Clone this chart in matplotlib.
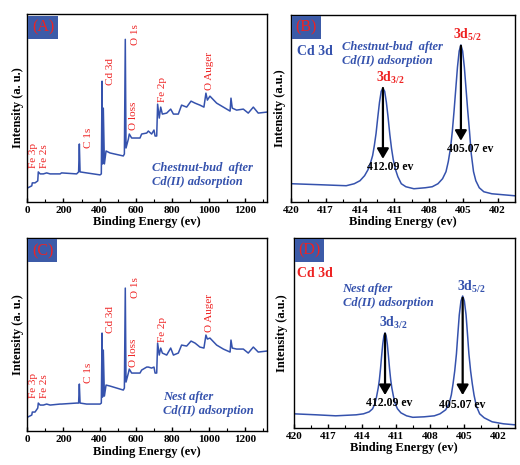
import matplotlib
matplotlib.use("Agg")
import matplotlib.pyplot as plt
from matplotlib.ticker import MultipleLocator

plt.rcParams['font.family'] = ['Liberation Serif', 'DejaVu Serif']
plt.rcParams['mathtext.fontset'] = 'custom'
plt.rcParams['mathtext.rm'] = 'Liberation Serif'

BLUE = '#3552ad'
RED = '#ee2222'
BOX = '#3c5ba8'

# survey spectra (binding energy in eV, intensity in a.u.)
survey_e = [4, 26, 29, 44, 59, 62, 72, 90, 108, 127, 182, 190, 273, 284, 288, 292, 328,
            402, 409, 413, 416, 420, 426, 435, 457, 530, 536, 541, 545, 558, 563, 576,
            622, 631, 659, 668, 686, 699, 705, 714, 719, 728, 736, 745, 769, 791, 806,
            833, 851, 879, 903, 925, 952, 974, 985, 993, 1007, 1044, 1081, 1118, 1123,
            1130, 1154, 1191, 1218, 1246, 1273, 1320]
survey_a = [14, 16, 19, 19, 21, 30, 28, 28, 29, 28, 28, 29, 28, 30, 58, 30, 29,
            27, 28, 121, 38, 94, 38, 51, 49, 46, 48, 163, 54, 63, 68, 64,
            64, 68, 69, 71, 68, 72, 66, 66, 98, 84, 95, 88, 89, 93, 88,
            88, 97, 95, 101, 99, 97, 95, 109, 102, 106, 99, 95, 91, 104,
            94, 92, 93, 89, 95, 89, 90]
survey_c = [14, 16, 19, 19, 23, 28, 26, 26, 27, 26, 27, 27, 28, 28, 47, 28, 27,
            27, 28, 98, 34, 81, 35, 46, 45, 41, 43, 143, 49, 58, 62, 58,
            58, 61, 64, 64, 63, 64, 58, 58, 88, 76, 83, 78, 76, 83, 76,
            78, 86, 85, 90, 88, 84, 83, 96, 92, 93, 86, 82, 79, 91,
            83, 82, 82, 78, 84, 79, 80]

survey_labels = ['Fe 3p', 'Fe 2s', 'C 1s', 'Cd 3d', 'O 1s', 'O loss', 'Fe 2p', 'O Auger']
label_e = [38, 94, 338, 462, 595, 588, 745, 1002]
label_a = [34, 34, 54, 117, 157, 72, 100, 112]
label_c = [33, 33, 48, 98, 133, 64, 89, 99]

# Cd 3d high resolution spectra
cd_e_b = [420, 417.5, 415.2, 414.5, 414.0, 413.6, 413.3, 413.1, 412.9, 412.75, 412.6,
          412.45, 412.3, 412.15, 412.0, 411.85, 411.7, 411.55, 411.4, 411.25, 411.1,
          410.9, 410.7, 410.4, 410.0, 409.3, 408.3, 407.7, 407.2, 406.8, 406.5, 406.3,
          406.1, 405.95, 405.8, 405.65, 405.5, 405.35, 405.2, 405.05, 404.9, 404.75,
          404.6, 404.45, 404.3, 404.1, 403.9, 403.6, 403.2, 402.5, 401.5, 400.5]
cd_b = [18, 17, 16, 18, 21, 26, 32, 38, 46, 56, 68,
        84, 99, 110, 113, 110, 99, 84, 67, 53, 42,
        32, 25, 18, 15, 13, 14, 15, 18, 23, 30, 40,
        54, 70, 90, 112, 134, 150, 156, 150, 134, 112,
        90, 70, 48, 30, 21, 14, 10, 8, 7, 6]
cd_e_d = [420, 418, 416.3, 414.5, 413.85, 413.35, 413.05, 412.85, 412.7, 412.55, 412.45,
          412.35, 412.25, 412.15, 412.05, 411.95, 411.85, 411.75, 411.65, 411.55, 411.45,
          411.35, 411.2, 411.05, 410.85, 410.55, 410.05, 409.5, 408.5, 407.6, 407.1,
          406.6, 406.3, 406.1, 405.95, 405.8, 405.65, 405.55, 405.4, 405.25, 405.1,
          404.95, 404.8, 404.65, 404.55, 404.4, 404.25, 404.1, 403.9, 403.6, 403.2,
          402.5, 401.5, 400.5]
cd_d = [14, 13, 12, 13, 14, 16, 19, 24, 31, 40, 48,
        59, 72, 84, 92, 95, 92, 84, 72, 59, 48,
        40, 31, 24, 19, 15, 12, 10.5, 11, 12, 14,
        18, 24, 33, 44, 57, 74, 90, 113, 127, 132,
        127, 113, 90, 74, 57, 44, 33, 22, 14, 10,
        6, 4, 3]

fig = plt.figure(figsize=(5.2, 4.65), dpi=100)
axA = fig.add_axes([0.052, 0.566, 0.461, 0.403])
axB = fig.add_axes([0.560, 0.566, 0.430, 0.402])
axC = fig.add_axes([0.052, 0.073, 0.461, 0.415])
axD = fig.add_axes([0.565, 0.080, 0.425, 0.408])


def style(ax):
    for s in ax.spines.values():
        s.set_linewidth(1.0)
    ax.set_yticks([])
    ax.tick_params(axis='x', direction='in', length=3, width=1.0, labelsize=8, pad=3)
    ax.tick_params(axis='x', which='minor', direction='in', length=2, width=0.8)
    for t in ax.get_xticklabels():
        t.set_fontweight('bold')
    ax.set_xlabel('Binding Energy (ev)', fontsize=9, fontweight='bold', labelpad=1)


def tag(ax, txt):
    ax.text(0.02, 0.975, txt, transform=ax.transAxes, ha='left', va='top', color=RED,
            fontsize=11.5, bbox=dict(boxstyle='square,pad=0.22', fc=BOX, ec='none'))


for ax, ys, ly, name, note in [(axA, survey_a, label_a, '(A)', 'Chestnut-bud  after\nCd(II) adsorption'),
                               (axC, survey_c, label_c, '(C)', 'Nest after\nCd(II) adsorption')]:
    ax.plot(survey_e, ys, color=BLUE, lw=1.1)
    ax.set_xlim(0, 1320)
    ax.set_ylim(0, 188 if ax is axA else 193)
    ax.xaxis.set_major_locator(MultipleLocator(200))
    ax.xaxis.set_minor_locator(MultipleLocator(100))
    style(ax)
    ax.set_ylabel('Intensity (a. u.)', fontsize=9, fontweight='bold', labelpad=2)
    tag(ax, name)
    for lab, e, y in zip(survey_labels, label_e, ly):
        ax.text(e, y, lab, rotation=90, color=RED, fontsize=8, ha='center', va='bottom')
    nx = 686 if ax is axA else 750
    ax.text(nx, 27, note, color=BLUE, fontsize=9, style='italic', fontweight='bold',
            ha='left', va='center', linespacing=1.3)

for ax, ex, ys, name in [(axB, cd_e_b, cd_b, '(B)'), (axD, cd_e_d, cd_d, '(D)')]:
    ax.plot(ex, ys, color=BLUE, lw=1.1)
    ax.set_xlim(420, 400.5)
    ax.xaxis.set_major_locator(MultipleLocator(3))
    ax.xaxis.set_minor_locator(MultipleLocator(1.5))
    style(ax)
    ax.set_ylabel('Intensity (a.u.)', fontsize=9, fontweight='bold', labelpad=4)
    tag(ax, name)

axB.set_ylim(0, 186)
axD.set_ylim(0, 190)

arrow = dict(arrowstyle='-|>,head_width=0.35,head_length=0.6', color='black', lw=1.6)

# panel B texts
axB.text(419.5, 150, 'Cd 3d', color=BLUE, fontsize=10, fontweight='bold', ha='left', va='center')
axB.text(415.6, 147, 'Chestnut-bud  after\nCd(II) adsorption', color=BLUE, fontsize=9,
         style='italic', fontweight='bold', ha='left', va='center', linespacing=1.15)
axB.text(412.6, 115, r'3d$_{\mathregular{3/2}}$', color=RED, fontsize=10, fontweight='bold', ha='left', va='bottom')
axB.text(405.9, 158, r'3d$_{\mathregular{5/2}}$', color=RED, fontsize=10, fontweight='bold', ha='left', va='bottom')
axB.annotate('', xy=(412.0, 40), xytext=(412.0, 116), arrowprops=arrow)
axB.annotate('', xy=(405.2, 58), xytext=(405.2, 158), arrowprops=arrow)
axB.text(411.4, 35, '412.09 ev', fontsize=8.5, fontweight='bold', ha='center', va='center')
axB.text(404.4, 53, '405.07 ev', fontsize=8.5, fontweight='bold', ha='center', va='center')

# panel D texts
axD.text(419.7, 155, 'Cd 3d', color=RED, fontsize=10, fontweight='bold', ha='left', va='center')
axD.text(415.7, 132, 'Nest after\nCd(II) adsorption', color=BLUE, fontsize=9,
         style='italic', fontweight='bold', ha='left', va='center', linespacing=1.3)
axD.text(412.45, 97, r'3d$_{\mathregular{3/2}}$', color=BLUE, fontsize=10, fontweight='bold', ha='left', va='bottom')
axD.text(405.6, 133, r'3d$_{\mathregular{5/2}}$', color=BLUE, fontsize=10, fontweight='bold', ha='left', va='bottom')
axD.annotate('', xy=(411.95, 30), xytext=(411.95, 97), arrowprops=arrow)
axD.annotate('', xy=(405.1, 30), xytext=(405.1, 133), arrowprops=arrow)
axD.text(411.6, 25, '412.09 ev', fontsize=8.5, fontweight='bold', ha='center', va='center')
axD.text(405.1, 23, '405.07 ev', fontsize=8.5, fontweight='bold', ha='center', va='center')

fig.savefig('out.png', dpi=100)
